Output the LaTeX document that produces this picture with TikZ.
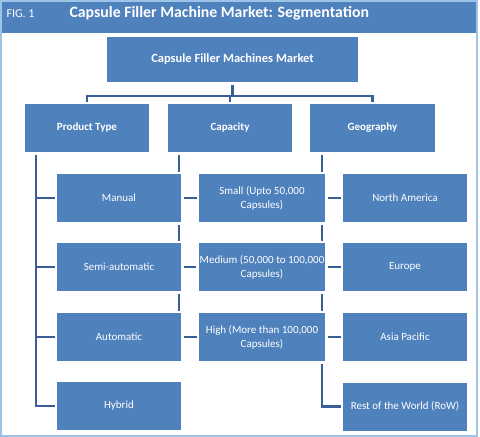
\documentclass[tikz,border=0pt]{standalone}
\usepackage{fontspec}
\setmainfont{Carlito}
\definecolor{boxblue}{RGB}{79,129,189}
\definecolor{linkblue}{RGB}{58,95,150}
\definecolor{frameblue}{RGB}{157,195,230}
\begin{document}
\begin{tikzpicture}[x=1pt,y=-1pt,
  box/.style={preaction={draw=white,line width=5pt}, fill=boxblue, text=white,
    minimum height=48pt, inner sep=1pt, align=center,
    font=\fontsize{11}{14}\selectfont},
  bbox/.style={box, font=\bfseries\fontsize{11}{14}\selectfont},
  conn/.style={draw=linkblue, line width=2.2pt}]
\useasboundingbox (0,0) rectangle (480,437);
\fill[boxblue] (0,0) rectangle (476,33);
\draw[frameblue, line width=1.5pt] (1,1) rectangle (477,436);
\node[anchor=west, text=white, font=\fontsize{12}{14}\selectfont] (fig) at (3,14) {FIG. 1};
\node[anchor=west, text=white, font=\bfseries\fontsize{15.8}{18}\selectfont] (title) at (66,13.5) {Capsule Filler Machine Market: Segmentation};

\coordinate (ctop) at (232.5,59.5);
\coordinate (cpt) at (87,128);
\coordinate (ccap) at (230,128);
\coordinate (cgeo) at (372.5,128);

% invisible placeholder nodes so connectors can be drawn beneath the boxes
\begin{scope}[every node/.style={minimum height=48pt, inner sep=1pt}]
\node[minimum width=251pt, minimum height=45pt] (top) at (ctop) {};
\node[minimum width=124pt] (pt) at (cpt) {};
\node[minimum width=124pt] (cap) at (ccap) {};
\node[minimum width=125pt] (geo) at (cgeo) {};
\node[minimum width=124pt] (man) at (119,198) {};
\node[minimum width=124pt] (semi) at (119,267) {};
\node[minimum width=124pt] (auto) at (119,337) {};
\node[minimum width=124pt] (hyb) at (119,406) {};
\node[minimum width=126pt] (small) at (262,198) {};
\node[minimum width=126pt] (med) at (262,267) {};
\node[minimum width=126pt] (high) at (262,337) {};
\node[minimum width=124pt] (na) at (405,198) {};
\node[minimum width=124pt] (eu) at (405,267) {};
\node[minimum width=124pt] (ap) at (405,337) {};
\node[minimum width=124pt] (row) at (405,406.5) {};
\end{scope}

% connectors
\draw[conn] (top.south) -- ++(0,14.5);
\draw[conn] (pt.north) -- ++(0,-8) -| (geo.north);
\draw[conn] (cap.north) -- ++(0,-8);
\draw[conn] ([xshift=-51pt]pt.south) |- (hyb.west);
\draw[conn] ([xshift=-51pt]pt.south |- man.west) -- (man.west);
\draw[conn] ([xshift=-51pt]pt.south |- semi.west) -- (semi.west);
\draw[conn] ([xshift=-51pt]pt.south |- auto.west) -- (auto.west);
\draw[conn] ([xshift=-51pt]cap.south) |- (high.west);
\draw[conn] ([xshift=-51pt]cap.south |- small.west) -- (small.west);
\draw[conn] ([xshift=-51pt]cap.south |- med.west) -- (med.west);
\draw[conn] ([xshift=-50.5pt]geo.south) |- (row.west);
\draw[conn] ([xshift=-50.5pt]geo.south |- na.west) -- (na.west);
\draw[conn] ([xshift=-50.5pt]geo.south |- eu.west) -- (eu.west);
\draw[conn] ([xshift=-50.5pt]geo.south |- ap.west) -- (ap.west);

% boxes
\node[bbox, minimum width=251pt, minimum height=45pt, font=\bfseries\fontsize{12.5}{15}\selectfont] (topb) at (top) {Capsule Filler Machines Market};
\node[bbox, minimum width=124pt] (ptb) at (pt) {Product Type};
\node[bbox, minimum width=124pt] (capb) at (cap) {Capacity};
\node[bbox, minimum width=125pt] (geob) at (geo) {Geography};
\node[box, minimum width=124pt] (manb) at (man) {Manual};
\node[box, minimum width=124pt] (semib) at (semi) {Semi-automatic};
\node[box, minimum width=124pt] (autob) at (auto) {Automatic};
\node[box, minimum width=124pt] (hybb) at (hyb) {Hybrid};
\node[box, minimum width=126pt] (smallb) at (small) {Small (Upto 50,000\\Capsules)};
\node[box, minimum width=126pt] (medb) at (med) {Medium (50,000 to 100,000\\Capsules)};
\node[box, minimum width=126pt] (highb) at (high) {High (More than 100,000\\Capsules)};
\node[box, minimum width=124pt] (nab) at (na) {North America};
\node[box, minimum width=124pt] (eub) at (eu) {Europe};
\node[box, minimum width=124pt] (apb) at (ap) {Asia Pacific};
\node[box, minimum width=124pt] (rowb) at (row) {Rest of the World (RoW)};
\end{tikzpicture}
\end{document}
